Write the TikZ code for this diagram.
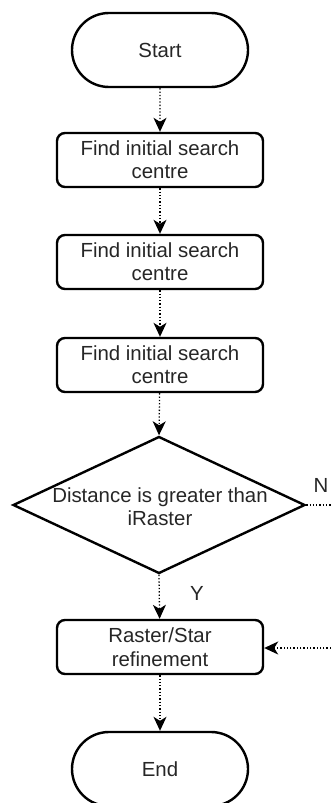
\documentclass[tikz,border=0pt]{standalone}
\usepackage{fontspec}
\setmainfont{Liberation Sans}
\usetikzlibrary{arrows.meta,shapes.geometric,shapes.misc}

\tikzset{
  every node/.style={font=\fontsize{20.4}{23.4}\selectfont, text=black!85},
  terminal/.style={rounded rectangle, draw=black, line width=2.4pt,
    minimum width=176pt, minimum height=74pt, inner sep=0pt},
  process/.style={rectangle, rounded corners=8pt, draw=black, line width=2.4pt,
    minimum width=206pt, minimum height=54pt, inner sep=0pt, align=center},
  decision/.style={diamond, draw=black, line width=2.4pt,
    minimum width=292pt, minimum height=137pt, aspect=2.13, inner sep=0pt},
  flow/.style={line width=1.3pt, dash pattern=on 1.3pt off 2pt,
    -{Stealth[length=14pt, width=13pt, inset=4pt]}},
  plainflow/.style={line width=1.3pt, dash pattern=on 1.3pt off 2pt},
  lbl/.style={inner sep=0pt, text=black!85}
}

\begin{document}
\begin{tikzpicture}[x=1pt, y=-1pt]
  \clip (0,0) rectangle (331,803);
  \useasboundingbox (0,0) rectangle (331,803);

  \node[terminal] (start) at (160,50) {Start};
  \node[process] (find1) at (160,160) {Find initial search\\centre};
  \node[process] (find2) at (160,262) {Find initial search\\centre};
  \node[process] (find3) at (160,365) {Find initial search\\centre};
  \node[decision] (dec) at (159,505) {};
  \node[align=center, inner sep=0pt] (dectext) at (160,507) {Distance is greater than\\iRaster};
  \node[process] (refine) at (160,647) {Raster/Star\\refinement};
  \node[terminal] (end) at (160,769) {End};

  \coordinate (nout) at (331,505);
  \coordinate (nin) at (331,648);

  \draw[flow] (start) -- (find1);
  \draw[flow] (find1) -- (find2);
  \draw[flow] (find2) -- (find3);
  \draw[flow] (find3) -- (dec.north);
  \draw[flow] (dec.south) -- (refine);
  \draw[flow] (refine) -- (end);
  \draw[plainflow] (dec.east) -- (nout);
  \draw[flow] (nin) -- (refine.east |- nin);

  \node[lbl] (nlabel) at (321,485) {N};
  \node[lbl] (ylabel) at (197,593) {Y};
\end{tikzpicture}
\end{document}
